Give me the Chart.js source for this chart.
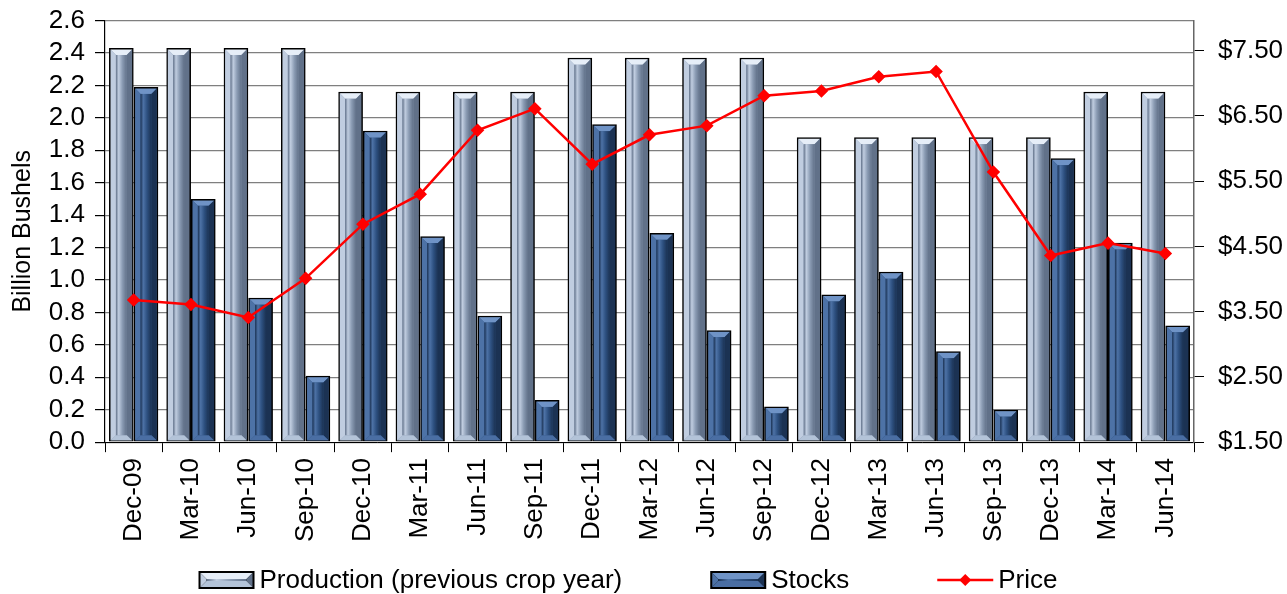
<!DOCTYPE html>
<html>
<head>
<meta charset="utf-8">
<script src="https://cdn.jsdelivr.net/npm/chart.js@4.4.0/dist/chart.umd.min.js"></script>
<style>
  html, body { margin: 0; padding: 0; background: #fff; }
  #wrap { width: 1287px; height: 594px; }
</style>
</head>
<body>
<div id="wrap"><canvas id="chart" width="1287" height="594"></canvas></div>
<script>
const labels = ["Dec-09", "Mar-10", "Jun-10", "Sep-10", "Dec-10", "Mar-11", "Jun-11", "Sep-11", "Dec-11", "Mar-12",
  "Jun-12", "Sep-12", "Dec-12", "Mar-13", "Jun-13", "Sep-13", "Dec-13", "Mar-14", "Jun-14"]
const production = [2.43, 2.43, 2.43, 2.43, 2.16, 2.16, 2.16, 2.16, 2.37, 2.37,
  2.37, 2.37, 1.88, 1.88, 1.88, 1.88, 1.88, 2.16, 2.16]
const stocks = [2.19, 1.50, 0.89, 0.41, 1.92, 1.27, 0.78, 0.26, 1.96, 1.29,
  0.69, 0.22, 0.91, 1.05, 0.56, 0.20, 1.75, 1.23, 0.72]
const price = [3.68, 3.61, 3.41, 4.01, 4.84, 5.30, 6.28, 6.61, 5.76, 6.21,
  6.35, 6.81, 6.88, 7.10, 7.18, 5.64, 4.36, 4.55, 4.39]
const priceTicks = [1.5, 2.5, 3.5, 4.5, 5.5, 6.5, 7.5]

const FONT = "'Liberation Sans', Arial, sans-serif"

// colour sets for the bevelled bars
const barStyles = [
  { face: "#8a9bb3", light: "#c0cde0", top: "#e6eef8", dark: "#617189", bottom: "#b3c3d8" },
  { face: "#2d5080", light: "#4d72a6", top: "#6f93c6", dark: "#1b3253", bottom: "#4a6ea3" },
]

function poly(ctx, pts, color) {
  ctx.beginPath()
  ctx.moveTo(pts[0][0], pts[0][1])
  for (let i = 1; i < pts.length; i++) ctx.lineTo(pts[i][0], pts[i][1])
  ctx.closePath()
  ctx.fillStyle = color
  ctx.fill()
}

function drawBevel(ctx, l, t, r, b, s) {
  const d = Math.min(6, (r - l) / 4, (b - t) / 2)
  if (b - t < 2) return
  poly(ctx, [[l, t], [r, t], [r - d, t + d], [l + d, t + d]], s.top)
  poly(ctx, [[l, t], [l + d, t + d], [l + d, b - d], [l, b]], s.light)
  poly(ctx, [[r, t], [r, b], [r - d, b - d], [r - d, t + d]], s.dark)
  poly(ctx, [[l, b], [l + d, b - d], [r - d, b - d], [r, b]], s.bottom)
  const g = ctx.createLinearGradient(l + d, 0, r - d, 0)
  g.addColorStop(0, s.dark)
  g.addColorStop(0.25, s.light)
  g.addColorStop(0.6, s.face)
  g.addColorStop(1, s.dark)
  ctx.fillStyle = g
  ctx.fillRect(l + d, t + d, r - l - 2 * d, b - t - 2 * d)
}

const bevelPlugin = {
  id: "bevel",
  afterDatasetDraw(chart, args) {
    if (args.index > 1) return
    const ctx = chart.ctx
    const s = barStyles[args.index]
    ctx.save()
    args.meta.data.forEach((bar) => {
      const p = bar.getProps(["x", "y", "width", "base"], true)
      const l = p.x - p.width / 2 + 1.5
      const r = p.x + p.width / 2 - 1.5
      drawBevel(ctx, l, p.y + 1.5, r, p.base - 1, s)
    })
    ctx.restore()
  },
}

// legend drawn by hand so the gaps between entries match the original
const legendPlugin = {
  id: "bottomLegend",
  afterDraw(chart) {
    const ctx = chart.ctx
    const items = chart.data.datasets.map((ds) => ds.label)
    const gap = 88
    ctx.save()
    ctx.font = "26px " + FONT
    ctx.textBaseline = "middle"
    const widths = items.map((t) => 56 + 5 + ctx.measureText(t).width)
    const total = widths.reduce((a, b) => a + b, 0) + gap * (items.length - 1)
    let x = 628 - total / 2
    const y = 580
    items.forEach((text, i) => {
      if (i < 2) {
        ctx.fillStyle = "#000"
        ctx.fillRect(x, y - 9, 56, 18)
        drawBevel(ctx, x + 2, y - 7, x + 54, y + 7, barStyles[i])
      } else {
        ctx.strokeStyle = "#ff0000"
        ctx.lineWidth = 2.5
        ctx.beginPath()
        ctx.moveTo(x, y)
        ctx.lineTo(x + 56, y)
        ctx.stroke()
        poly(ctx, [[x + 28, y - 6], [x + 34, y], [x + 28, y + 6], [x + 22, y]], "#ff0000")
      }
      ctx.fillStyle = "#000"
      ctx.fillText(text, x + 61, y + 1)
      x += widths[i] + gap
    })
    ctx.restore()
  },
}

new Chart(document.getElementById("chart"), {
  data: {
    labels: labels,
    datasets: [
      {
        type: "bar",
        label: "Production (previous crop year)",
        data: production,
        backgroundColor: barStyles[0].face,
        borderColor: "#000",
        borderWidth: 2,
        borderSkipped: false,
        categoryPercentage: 0.86,
        barPercentage: 1,
        yAxisID: "y",
        order: 1,
      },
      {
        type: "bar",
        label: "Stocks",
        data: stocks,
        backgroundColor: barStyles[1].face,
        borderColor: "#000",
        borderWidth: 2,
        borderSkipped: false,
        categoryPercentage: 0.86,
        barPercentage: 1,
        yAxisID: "y",
        order: 1,
      },
      {
        type: "line",
        label: "Price",
        data: price,
        borderColor: "#ff0000",
        backgroundColor: "#ff0000",
        borderWidth: 2.5,
        pointStyle: "rectRot",
        pointRadius: 5,
        tension: 0,
        yAxisID: "y1",
        order: 0,
      },
    ],
  },
  options: {
    responsive: false,
    animation: false,
    layout: { padding: { left: 8, right: 4, top: 15, bottom: 46 } },
    plugins: {
      legend: { display: false },
      tooltip: { enabled: false },
    },
    scales: {
      x: {
        grid: { display: true, offset: true, drawOnChartArea: false, tickLength: 10, color: "#000" },
        border: { color: "#000", width: 1 },
        ticks: { font: { family: FONT, size: 26 }, color: "#000", minRotation: 90, maxRotation: 90, padding: 6, autoSkip: false },
      },
      y: {
        position: "left",
        min: 0,
        max: 2.6,
        afterFit: (axis) => { axis.width = 97 },
        ticks: { stepSize: 0.2, autoSkip: false, font: { family: FONT, size: 26, lineHeight: 0.5 }, color: "#000", padding: 10, callback: (v) => v.toFixed(1) },
        grid: { color: "#7f7f7f", lineWidth: 1.2, tickLength: 10, tickColor: "#000" },
        border: { color: "#000", width: 1.2 },
        title: { display: true, text: "Billion Bushels", font: { family: FONT, size: 25 }, color: "#000", padding: { top: 0, bottom: 8 } },
      },
      y1: {
        position: "right",
        min: 1.5,
        max: 1.5 + 420 / 65,
        afterBuildTicks: (axis) => {
          axis.ticks = priceTicks.map((v) => ({ value: v }))
        },
        afterFit: (axis) => { axis.width = 89 },
        ticks: { autoSkip: false, font: { family: FONT, size: 26, lineHeight: 0.5 }, color: "#000", padding: 14, callback: (v) => "$" + v.toFixed(2) },
        grid: { drawOnChartArea: false, tickLength: 10, color: "#000" },
        border: { color: "#666", width: 1.5 },
      },
    },
  },
  plugins: [bevelPlugin, legendPlugin],
})
</script>
</body>
</html>
